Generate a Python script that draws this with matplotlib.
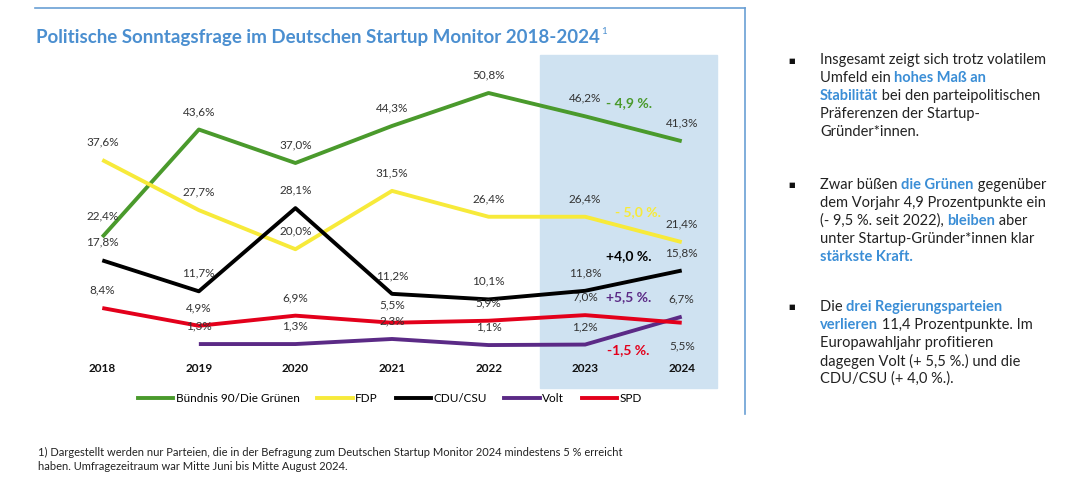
import matplotlib
matplotlib.use("Agg")
import matplotlib.pyplot as plt
from matplotlib.lines import Line2D
from matplotlib.patches import Rectangle

plt.rcParams['font.family'] = ['Lato', 'DejaVu Sans']

years = [2018, 2019, 2020, 2021, 2022, 2023, 2024]
gruene = [22.4, 43.6, 37.0, 44.3, 50.8, 46.2, 41.3]
fdp = [37.6, 27.7, 20.0, 31.5, 26.4, 26.4, 21.4]
cdu = [17.8, 11.7, 28.1, 11.2, 10.1, 11.8, 15.8]
volt = [None, 1.3, 1.3, 2.3, 1.1, 1.2, 6.7]
spd = [8.4, 4.9, 6.9, 5.5, 5.9, 7.0, 5.5]

series = [
    ("Bündnis 90/Die Grünen", gruene, "#4a9a2c"),
    ("FDP", fdp, "#f7ea3a"),
    ("CDU/CSU", cdu, "#000000"),
    ("Volt", volt, "#5b2a86"),
    ("SPD", spd, "#e3001b"),
]
# change labels: text, y-level, colour, x-level
changes = [("- 4,9 %.", 48.8, "#4a9a2c", 5.45),
           ("- 5,0 %.", 27.3, "#f7ea3a", 5.55),
           ("+4,0 %.", 18.6, "#000000", 5.45),
           ("+5,5 %.", 10.6, "#5b2a86", 5.45),
           ("-1,5 %.", 0.1, "#e3001b", 5.45)]

W, H = 1087, 478
fig = plt.figure(figsize=(W / 100, H / 100), dpi=100)
ax = fig.add_axes([54 / W, 1 - 376 / H, 676 / W, (376 - 71.7) / H])
ax.set_xlim(-0.5, 6.5)
ax.set_ylim(-5, 55)
ax.axis("off")

ax.add_patch(Rectangle((4.53, -7.4), 1.84, 65.7, color="#cfe2f1", zorder=0, clip_on=False))

for name, vals, col in series:
    xs = [i for i, v in enumerate(vals) if v is not None]
    ys = [v for v in vals if v is not None]
    ax.plot(xs, ys, color=col, lw=2.8, solid_capstyle="butt", zorder=2)
    for x, y in zip(xs, ys):
        dx, dy = 0, 13
        if name == "SPD" and x == 6:
            dy = -17
        if name == "Bündnis 90/Die Grünen" and x == 0:
            dy = 15
        ax.annotate(f"{y:.1f}%".replace(".", ","), (x, y), xytext=(dx, dy),
                    textcoords="offset points", ha="center", va="center",
                    fontsize=8.5, color="#333333", zorder=3)

for i, yr in enumerate(years):
    ax.text(i, -3.5, str(yr), ha="center", va="center", fontsize=8.5,
            fontweight="bold", color="#111111")

for txt, y, col, x in changes:
    ax.text(x, y, txt, ha="center", va="center", fontsize=10,
            fontweight="bold", color=col)

handles = [Line2D([], [], color=c, lw=2.8) for _, _, c in series]
fig.legend(handles, [n for n, _, _ in series], loc="center", ncol=5,
           bbox_to_anchor=(390 / W, 1 - 399 / H), frameon=False, fontsize=8.5,
           handlelength=3, columnspacing=1.5, handletextpad=0.2)

renderer = fig.canvas.get_renderer()
title = fig.text(36 / W, 1 - 37 / H, "Politische Sonntagsfrage im Deutschen Startup Monitor 2018-2024",
                 fontsize=13.5, fontweight="bold", color="#4b8fd0", va="center")
tw = title.get_window_extent(renderer).width
fig.text((36 + tw + 1) / W, 1 - 32 / H, "1", fontsize=7, color="#4b8fd0", va="center")

# frame lines
fig.add_artist(Line2D([35 / W, 745 / W], [1 - 8 / H, 1 - 8 / H], color="#6a9fd4", lw=1.2))
fig.add_artist(Line2D([745 / W, 745 / W], [1 - 8 / H, 1 - 414 / H], color="#6a9fd4", lw=1.2))

fig.text(38 / W, 1 - 452 / H,
         "1) Dargestellt werden nur Parteien, die in der Befragung zum Deutschen Startup Monitor 2024 mindestens 5 % erreicht",
         fontsize=8, color="#222222", va="center")
fig.text(38 / W, 1 - 466 / H, "haben. Umfragezeitraum war Mitte Juni bis Mitte August 2024.",
         fontsize=8, color="#222222", va="center")

# right text blocks with highlighted segments
B = "#3b8ed6"
blocks = [
    (60, [[("Insgesamt zeigt sich trotz volatilem", None)],
          [("Umfeld ein ", None), ("hohes Maß an", B)],
          [("Stabilität", B), (" bei den parteipolitischen", None)],
          [("Präferenzen der Startup-", None)],
          [("Gründer*innen.", None)]]),
    (185, [[("Zwar büßen ", None), ("die Grünen", B), (" gegenüber", None)],
           [("dem Vorjahr 4,9 Prozentpunkte ein", None)],
           [("(- 9,5 %. seit 2022), ", None), ("bleiben", B), (" aber", None)],
           [("unter Startup-Gründer*innen klar", None)],
           [("stärkste Kraft.", B)]]),
    (307, [[("Die ", None), ("drei Regierungsparteien", B)],
           [("verlieren", B), (" 11,4 Prozentpunkte. Im", None)],
           [("Europawahljahr profitieren", None)],
           [("dagegen Volt (+ 5,5 %.) und die", None)],
           [("CDU/CSU (+ 4,0 %.).", None)]]),
]
for y0, lines in blocks:
    fig.text(788 / W, 1 - y0 / H, "■", fontsize=5, va="center", color="#111111")
    for k, segs in enumerate(lines):
        xpx = 820
        ypx = y0 + k * 18
        for s, col in segs:
            t = fig.text(xpx / W, 1 - ypx / H, s, fontsize=10.5, va="center",
                         color=col or "#222222", fontweight="bold" if col else "normal")
            xpx += t.get_window_extent(renderer).width

fig.savefig("out.png", dpi=100)
